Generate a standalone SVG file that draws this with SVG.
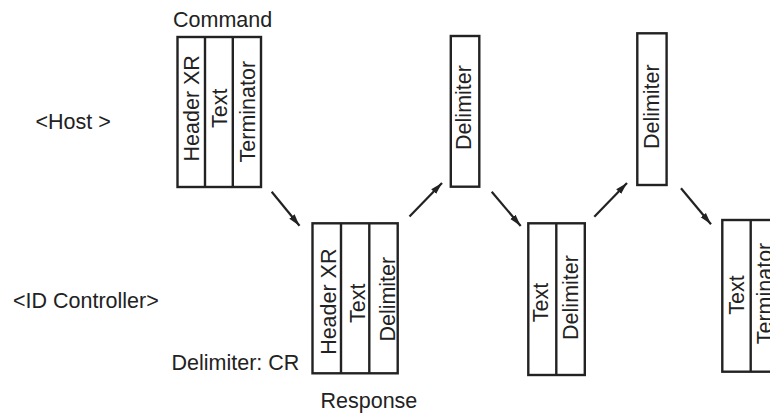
<svg xmlns="http://www.w3.org/2000/svg" width="770" height="414" viewBox="0 0 770 414">
<style>
text{font-family:"Liberation Sans",Arial,sans-serif;font-size:21.5px;fill:#222;}
.box{fill:#fff;stroke:#222;stroke-width:2.4;}
.div{stroke:#222;stroke-width:2.4;fill:none;}
.v{text-anchor:middle;}
.conn line{stroke:#222;stroke-width:2.2;marker-end:url(#ah);}
</style>
<defs>
<marker id="ah" markerUnits="userSpaceOnUse" markerWidth="14" markerHeight="10" refX="12" refY="4" orient="auto" viewBox="0 0 14 8">
<path d="M0,0.6 L12,4 L0,7.4 Z" fill="#222"/>
</marker>
</defs>
<rect width="770" height="414" fill="#fff"/>
<g id="labels">
<text x="173" y="27">Command</text>
<text x="35.5" y="129.3">&lt;Host &gt;</text>
<text x="13" y="308.3">&lt;ID Controller&gt;</text>
<text x="171.5" y="370">Delimiter: CR</text>
<text x="320.5" y="408.3">Response</text>
</g>
<g id="command">
<rect class="box" x="177.5" y="37" width="83.5" height="150"/>
<line class="div" x1="205" y1="37" x2="205" y2="187"/>
<line class="div" x1="232.8" y1="37" x2="232.8" y2="187"/>
<text class="v" transform="translate(199.3,108.3) rotate(-90)">Header XR</text>
<text class="v" transform="translate(226.7,108.3) rotate(-90)">Text</text>
<text class="v" transform="translate(255,111.7) rotate(-90)">Terminator</text>
</g>
<g id="response">
<rect class="box" x="312.5" y="223.3" width="85.2" height="150"/>
<line class="div" x1="341" y1="223.3" x2="341" y2="373.3"/>
<line class="div" x1="369.3" y1="223.3" x2="369.3" y2="373.3"/>
<text class="v" transform="translate(335.7,301.7) rotate(-90)">Header XR</text>
<text class="v" transform="translate(365,303.3) rotate(-90)">Text</text>
<text class="v" transform="translate(394.5,299.2) rotate(-90)">Delimiter</text>
</g>
<g id="delim1">
<rect class="box" x="450.8" y="36" width="28.5" height="150.7"/>
<text class="v" transform="translate(470.7,107.5) rotate(-90)">Delimiter</text>
</g>
<g id="text-delim">
<rect class="box" x="528.3" y="223.3" width="56.5" height="151.7"/>
<line class="div" x1="556.3" y1="223.3" x2="556.3" y2="375"/>
<text class="v" transform="translate(548.3,302.5) rotate(-90)">Text</text>
<text class="v" transform="translate(578,297.5) rotate(-90)">Delimiter</text>
</g>
<g id="delim2">
<rect class="box" x="637.3" y="33.3" width="29.3" height="151.7"/>
<text class="v" transform="translate(659.3,106.7) rotate(-90)">Delimiter</text>
</g>
<g id="text-term">
<rect class="box" x="722.3" y="220" width="57" height="151.7"/>
<line class="div" x1="750.7" y1="220" x2="750.7" y2="371.7"/>
<text class="v" transform="translate(744,295) rotate(-90)">Text</text>
<text class="v" transform="translate(772,293.5) rotate(-90)">Terminator</text>
</g>
<g id="connectors" class="conn">
<line x1="271.7" y1="191.7" x2="299.5" y2="225.8"/>
<line x1="409.5" y1="216.5" x2="442" y2="183"/>
<line x1="491.7" y1="191.7" x2="520.7" y2="226"/>
<line x1="594.3" y1="216.7" x2="627" y2="183"/>
<line x1="681" y1="188.3" x2="711" y2="224.3"/>
</g>
</svg>
